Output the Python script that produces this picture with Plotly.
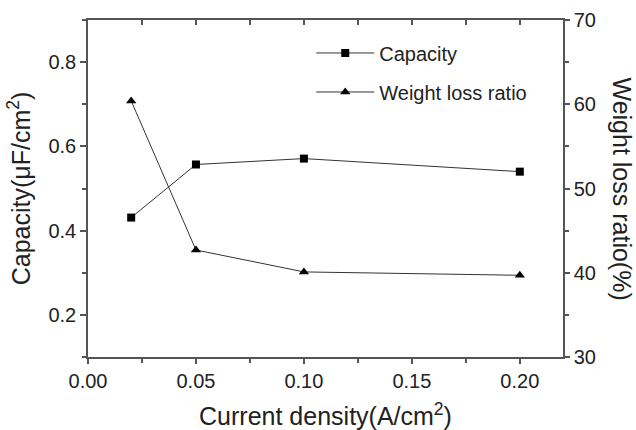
import plotly.graph_objects as go

current_density = [0.02, 0.05, 0.10, 0.20]
capacity = [0.431, 0.557, 0.571, 0.540]
weight_loss = [60.4, 42.7, 40.1, 39.7]

FONT = "Arial, Liberation Sans, sans-serif"
LINE = "#333333"
AX = "#555555"

fig = go.Figure()
fig.add_trace(go.Scatter(
    x=current_density, y=capacity, name="Capacity", mode="lines+markers", legendgroup="a",
    line=dict(color=LINE, width=1), marker=dict(symbol="square", size=8, color="black"),
))
fig.add_trace(go.Scatter(
    x=current_density, y=weight_loss, name="Weight loss ratio", mode="lines+markers",
    yaxis="y2", legendgroup="b",
    line=dict(color=LINE, width=1), marker=dict(symbol="triangle-up", size=9, color="black"),
))
# invisible trace to carry the top mirror axis
fig.add_trace(go.Scatter(x=[current_density[0]], y=[capacity[0]], xaxis="x3", yaxis="y",
                         mode="markers", marker=dict(opacity=0), showlegend=False, hoverinfo="skip"))

fig.update_layout(
    width=636, height=430,
    margin=dict(l=88, r=73, t=20, b=73, autoexpand=False),
    paper_bgcolor="white", plot_bgcolor="white",
    font=dict(family=FONT, size=20, color="#222222"),
    showlegend=True,
    legend=dict(x=0.47, y=0.96, xanchor="left", yanchor="top", itemwidth=58,
                bgcolor="rgba(0,0,0,0)", font=dict(size=20), tracegroupgap=10),
    xaxis=dict(
        range=[0, 0.22], dtick=0.05, tick0=0, tickformat=".2f", automargin=False,
        showline=True, linecolor=AX, linewidth=1.5, showgrid=False, zeroline=False,
        ticks="outside", ticklen=5, tickwidth=1.5, tickcolor=AX,
        minor=dict(dtick=0.025, tick0=0, ticks="outside", ticklen=4, tickcolor=AX, showgrid=False),
        title=dict(text="Current density(A/cm<sup>2</sup>)", font=dict(size=25), standoff=21),
    ),
    xaxis3=dict(
        range=[0, 0.22], overlaying="x", side="top", anchor="y", automargin=False,
        showline=True, linecolor=AX, linewidth=1.5, showgrid=False, zeroline=False,
        showticklabels=False, dtick=0.05, tick0=0,
        ticks="inside", ticklen=5, tickwidth=1.5, tickcolor=AX,
        minor=dict(dtick=0.025, tick0=0, ticks="inside", ticklen=5, tickcolor=AX, showgrid=False),
    ),
    yaxis=dict(
        range=[0.1, 0.9], dtick=0.2, tick0=0, tickformat=".1f", automargin=False,
        showline=True, linecolor=AX, linewidth=1.5, showgrid=False, zeroline=False,
        ticks="outside", ticklen=6, tickwidth=1.5, tickcolor=AX,
        minor=dict(dtick=0.1, tick0=0, ticks="outside", ticklen=4, tickcolor=AX, showgrid=False),
        title=dict(text="Capacity(μF/cm<sup>2</sup>)", font=dict(size=25), standoff=11),
    ),
    yaxis2=dict(
        range=[30, 70], dtick=10, tick0=0, overlaying="y", side="right", anchor="x",
        automargin=False,
        showline=True, linecolor=AX, linewidth=1.5, showgrid=False, zeroline=False,
        ticks="outside", ticklen=5, tickwidth=1.5, tickcolor=AX,
        minor=dict(dtick=5, tick0=0, ticks="outside", ticklen=4, tickcolor=AX, showgrid=False),
    ),
    annotations=[dict(
        text="Weight loss ratio(%)", textangle=90, xref="paper", yref="paper",
        x=1.0, xshift=59, y=0.5, xanchor="center", yanchor="middle",
        showarrow=False, font=dict(size=25),
    )],
)

fig.write_html("out.html")
